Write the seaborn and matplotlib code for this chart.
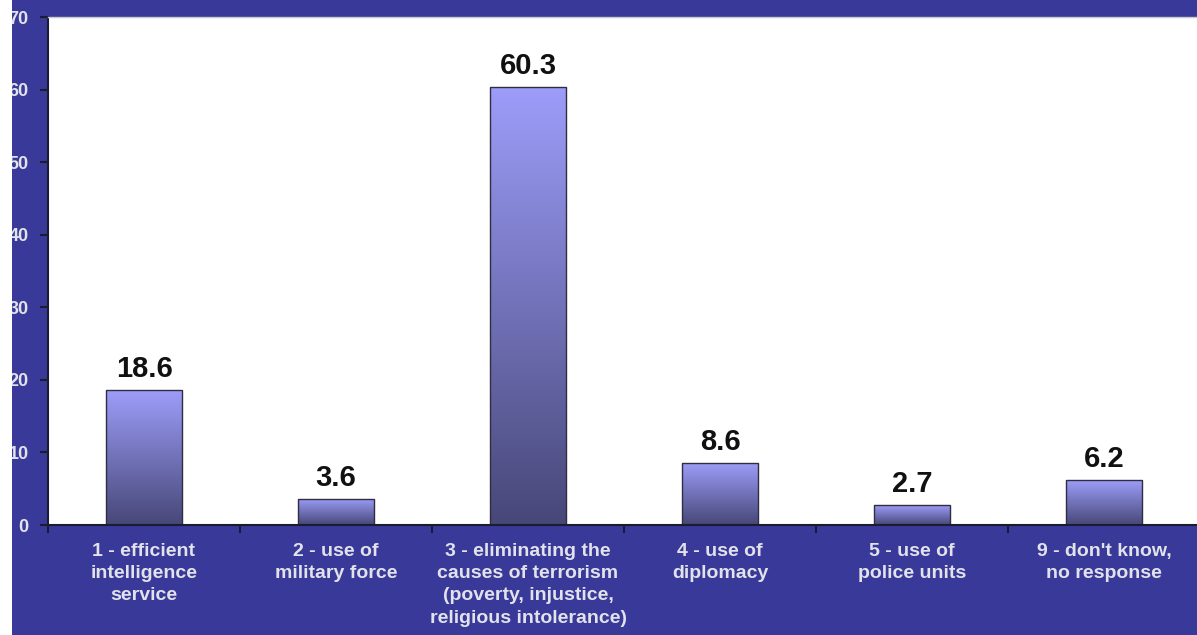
import numpy as np
import pandas as pd
import matplotlib
matplotlib.use("Agg")
import matplotlib.pyplot as plt
import seaborn as sns
from matplotlib.colors import LinearSegmentedColormap
from matplotlib.patches import Rectangle

# Survey answers and their shares (%)
categories = [
    "1 - efficient\nintelligence\nservice",
    "2 - use of\nmilitary force",
    "3 - eliminating the\ncauses of terrorism\n(poverty, injustice,\nreligious intolerance)",
    "4 - use of\ndiplomacy",
    "5 - use of\npolice units",
    "9 - don't know,\nno response",
]
values = [18.6, 3.6, 60.3, 8.6, 2.7, 6.2]
y_ticks = [0, 10, 20, 30, 40, 50, 60, 70]

NAVY = "#39399a"
BAR_TOP = "#9d9dfa"
BAR_BOTTOM = "#474778"
AXIS_DARK = "#1c1c30"
LABEL_LIGHT = "#e2e2ea"

sns.set_theme(style="white")
plt.rcParams["font.family"] = ["Liberation Sans", "DejaVu Sans"]

W, H = 1197, 635
fig = plt.figure(figsize=(W / 100, H / 100), dpi=100, facecolor=NAVY)
ax = fig.add_axes([48 / W, 110 / H, 1152 / W, 508 / H])
ax.set_facecolor("white")

df = pd.DataFrame({"answer": categories, "share": values})
sns.barplot(data=df, x="answer", y="share", ax=ax, width=0.4,
            color=BAR_TOP, edgecolor="#2e2e40", linewidth=1.0, saturation=1)

# vertical gradient fill inside every bar
cmap = LinearSegmentedColormap.from_list("bar_grad", [BAR_BOTTOM, BAR_TOP])
grad = np.linspace(0, 1, 256).reshape(-1, 1)
for patch in list(ax.patches):
    x0, y0 = patch.get_x(), patch.get_y()
    w, h = patch.get_width(), patch.get_height()
    im = ax.imshow(grad, cmap=cmap, origin="lower", aspect="auto",
                   extent=[x0, x0 + w, y0, y0 + h], zorder=patch.get_zorder() - 0.05,
                   interpolation="bicubic")
    im.set_clip_path(patch)
    patch.set_facecolor("none")
    patch.set_zorder(patch.get_zorder() + 0.1)

# value labels above bars
for i, v in enumerate(values):
    ax.annotate(f"{v:.1f}", xy=(i, v), xytext=(0, 5), textcoords="offset points",
                ha="center", va="bottom", fontsize=21, fontweight="bold", color="#111111")

ax.set_xlim(-0.5, 5.5)
ax.set_ylim(0, 70)
ax.set_yticks(y_ticks)
ax.set_yticklabels([str(t) for t in y_ticks])
ax.set_xlabel("")
ax.set_ylabel("")

# category boundary ticks on the x axis
ax.set_xticks(np.arange(-0.5, 6.0, 1.0), minor=True)
ax.tick_params(axis="x", which="major", length=0, pad=13, labelsize=14,
               labelcolor=LABEL_LIGHT)
ax.tick_params(axis="x", which="minor", length=6, width=1.5, direction="out",
               color=AXIS_DARK, bottom=True)
ax.tick_params(axis="y", which="major", length=6, width=1.5, direction="out",
               color=AXIS_DARK, pad=8, labelsize=13, labelcolor=LABEL_LIGHT, left=True)
for lbl in ax.get_xticklabels() + ax.get_yticklabels():
    lbl.set_fontweight("bold")
for lbl in ax.get_xticklabels():
    lbl.set_linespacing(1.4)

for side in ["left", "bottom"]:
    ax.spines[side].set_visible(True)
    ax.spines[side].set_color(AXIS_DARK)
    ax.spines[side].set_linewidth(1.5)
ax.spines["top"].set_color("#c8c8d0")
ax.spines["top"].set_linewidth(1.0)
ax.spines["right"].set_visible(False)

# narrow white margin along the left edge
fig.patches.append(Rectangle((0, 0), 12 / W, 1, transform=fig.transFigure,
                             facecolor="white", edgecolor="none", zorder=10))

fig.savefig("out.png", dpi=100, facecolor=NAVY)
